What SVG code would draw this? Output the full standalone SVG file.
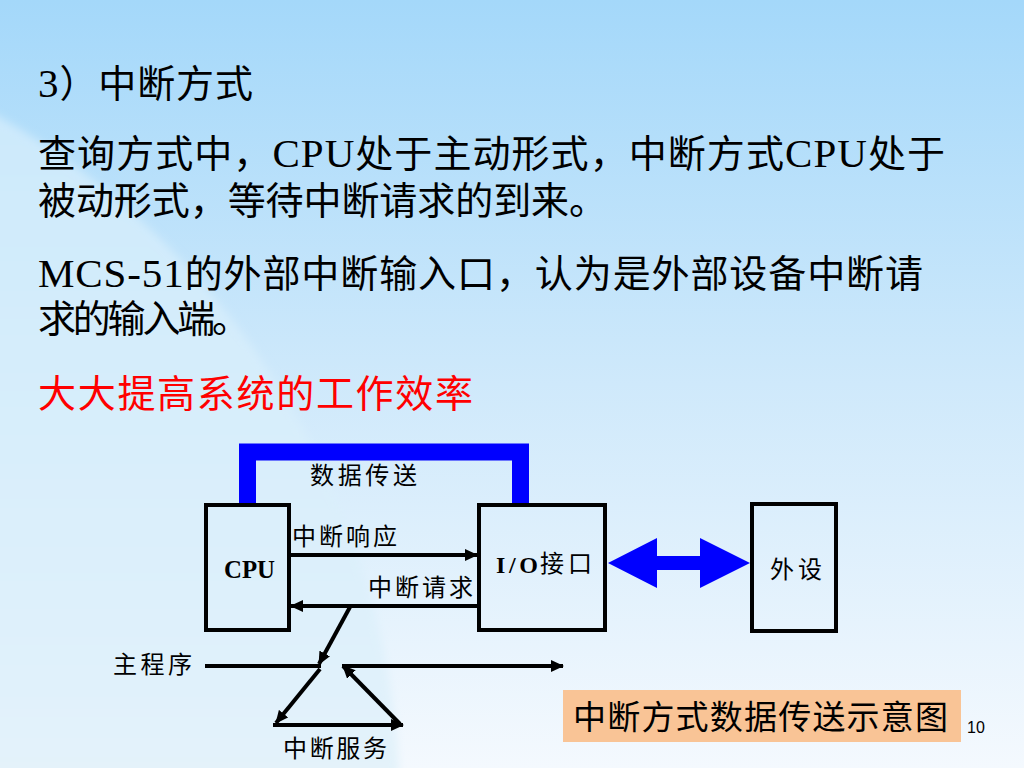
<svg xmlns="http://www.w3.org/2000/svg" width="1024" height="768" viewBox="0 0 1024 768">
<defs>
<linearGradient id="bg" x1="0" y1="0" x2="0" y2="1">
<stop offset="0" stop-color="#a4d8fa"/>
<stop offset="0.5" stop-color="#cfe9fb"/>
<stop offset="1" stop-color="#f4f9fe"/>
</linearGradient>
<linearGradient id="arc" x1="0" y1="0" x2="0" y2="1">
<stop offset="0" stop-color="#c9e8fc"/>
<stop offset="0.45" stop-color="#e2f2fb"/>
<stop offset="0.75" stop-color="#f6faee"/>
<stop offset="1" stop-color="#fdfde6"/>
</linearGradient>
<filter id="soft" x="-10%" y="-10%" width="120%" height="120%">
<feGaussianBlur stdDeviation="4"/>
</filter>
<marker id="ah" markerUnits="userSpaceOnUse" markerWidth="13" markerHeight="12" refX="12" refY="6" orient="auto">
<path d="M0,0 L13,6 L0,12 z" fill="#000"/>
</marker>
<style>
.t{font-family:"Liberation Serif","Noto Sans CJK SC",serif;fill:#000}
.body{font-size:38px}
.lat{font-size:41px}
.lbl{font-size:24px}
.box{fill:none;stroke:#000;stroke-width:4}
.ln{fill:none;stroke:#000;stroke-width:4}
</style>
</defs>
<rect width="1024" height="768" fill="url(#bg)"/>
<circle cx="-400" cy="810" r="800" fill="url(#arc)" filter="url(#soft)"/>

<g id="text">
<text class="t body" x="38" y="97" textLength="215" lengthAdjust="spacing"><tspan class="lat">3</tspan>）中断方式</text>
<text class="t body" x="38" y="167" textLength="907" lengthAdjust="spacing">查询方式中，<tspan class="lat">CPU</tspan>处于主动形式，中断方式<tspan class="lat">CPU</tspan>处于</text>
<text class="t body" x="38" y="214" textLength="569" lengthAdjust="spacing">被动形式，等待中断请求的到来。</text>
<text class="t body" x="38" y="287" textLength="885" lengthAdjust="spacing"><tspan class="lat">MCS-51</tspan>的外部中断输入口，认为是外部设备中断请</text>
<text class="t body" x="38" y="332" textLength="212" lengthAdjust="spacing">求的输入端。</text>
<text class="t body" x="38" y="407" textLength="435" lengthAdjust="spacing" style="fill:#ff0000">大大提高系统的工作效率</text>
</g>

<g id="connectors">
<path d="M247.5,503 V452 H520.5 V503" fill="none" stroke="#0000ff" stroke-width="17"/>
<polygon points="608,563 657,538 657,556 700,556 700,538 750,563 700,588 700,570 657,570 657,588" fill="#0000ff"/>
<path class="ln" d="M291,555 H477" marker-end="url(#ah)"/>
<path class="ln" d="M477,606 H291" marker-end="url(#ah)"/>
<path class="ln" d="M350,607 L319,664" marker-end="url(#ah)"/>
<path class="ln" d="M205,666 H321"/>
<path class="ln" d="M320,669 L276,723" marker-end="url(#ah)"/>
<path class="ln" d="M273,725 H403" marker-end="url(#ah)"/>
<path class="ln" d="M400,724 L343,666" marker-end="url(#ah)"/>
<path class="ln" d="M342,666 H563" marker-end="url(#ah)"/>
</g>

<g id="cpu">
<rect class="box" x="206" y="505" width="83" height="125"/>
<text class="t" x="224" y="578" font-size="26" font-weight="bold" textLength="51" lengthAdjust="spacingAndGlyphs">CPU</text>
</g>
<g id="io">
<rect class="box" x="479" y="505" width="126" height="125"/>
<text class="t" x="496" y="573" font-size="24" font-weight="bold" textLength="42" lengthAdjust="spacing">I/O</text>
<text class="t lbl" x="540" y="572" textLength="52" lengthAdjust="spacing">接口</text>
</g>
<g id="peripheral">
<rect class="box" x="752" y="504" width="84" height="127"/>
<text class="t lbl" x="770" y="578" textLength="52" lengthAdjust="spacing">外设</text>
</g>

<g id="labels">
<text class="t lbl" x="310" y="484" textLength="107" lengthAdjust="spacing">数据传送</text>
<text class="t lbl" x="292" y="545" textLength="105" lengthAdjust="spacing">中断响应</text>
<text class="t lbl" x="368" y="596" textLength="105" lengthAdjust="spacing">中断请求</text>
<text class="t lbl" x="113" y="673" textLength="79" lengthAdjust="spacing">主程序</text>
<text class="t lbl" x="283" y="757" textLength="104" lengthAdjust="spacing">中断服务</text>
</g>

<g id="caption">
<rect x="563" y="690" width="398" height="52" fill="#f9c496"/>
<text class="t" x="573" y="729" font-size="33" textLength="375" lengthAdjust="spacing">中断方式数据传送示意图</text>
</g>
<text x="967" y="733" font-family="Liberation Sans, Arial, sans-serif" font-size="16" fill="#000">10</text>
</svg>
